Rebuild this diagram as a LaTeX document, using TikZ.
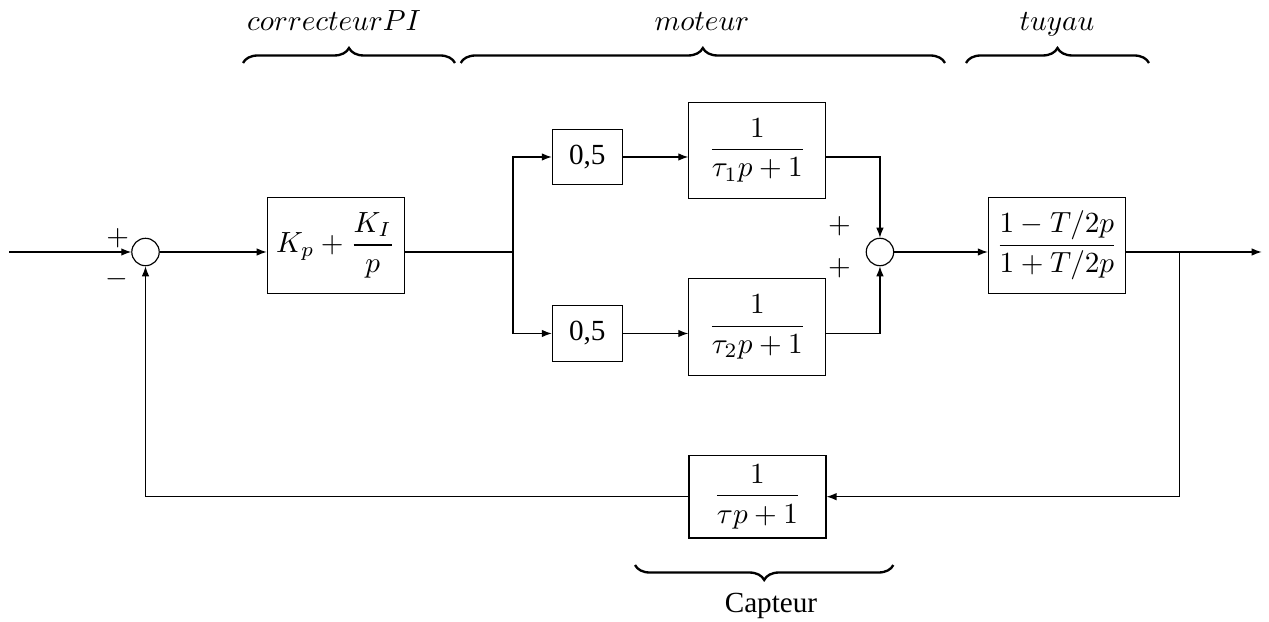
\documentclass[tikz,border=0pt]{standalone}
\usepackage{amsmath}
\usepackage[no-math]{fontspec}
\setmainfont{Liberation Serif}
\usepackage{tikz}
\usetikzlibrary{arrows.meta,positioning,decorations.pathreplacing}
\tikzset{
  blk/.style ={draw, minimum width=16.5mm, minimum height=11.6mm, inner sep=0pt},
  gain/.style={draw, minimum width=8.4mm, minimum height=6.7mm, inner sep=0pt},
  sum/.style ={draw, circle, minimum size=3.3mm, inner sep=0pt},
  arr/.style ={-{Latex[length=1.2mm,width=0.9mm]}},
  brc/.style ={decorate, decoration={brace, amplitude=1.8mm}, line width=0.8pt},
}

\begin{document}
\begin{tikzpicture}
  \useasboundingbox (-1.752,-4.443) rectangle (13.527,3.034);
  % chaine directe
  \node[sum] (sum1) at (0,0) {};
  \coordinate (in) at (-1.640,0);
  \node[blk] (pi) at (2.291,0.081) {$K_p+\dfrac{K_I}{p}$};
  \coordinate (br) at (4.424,0);
  \node[gain] (h1) at (5.319,1.144) {0,5};
  \node[gain] (h2) at (5.319,-0.981) {0,5};
  \node[blk] (t1) at (7.367,1.224) {$\dfrac{1}{\tau_1p+1}$};
  \node[blk] (t2) at (7.367,-0.903) {$\dfrac{1}{\tau_2p+1}$};
  \node[sum] (sum2) at (8.843,0) {};
  \node[blk] (tu) at (10.974,0.081) {$\dfrac{1-T/2p}{1+T/2p}$};
  \coordinate (fb) at (12.447,0);
  \coordinate (out) at (13.439,0);
  % retour
  \node[blk, minimum height=9.95mm] (cap) at (7.368,-2.946) {$\dfrac{1}{\tau p+1}$};
  % signes
  \node at (-0.335,0.169) {$+$};
  \node at (-0.343,-0.329) {$-$};
  \node at (8.356,0.313) {$+$};
  \node at (8.356,-0.193) {$+$};
  % liaisons
  \draw[arr] (in) -- (sum1.west);
  \draw[arr] (sum1.east) -- (sum1.east -| pi.west);
  \draw (pi.east |- sum1) -- (br);
  \draw[arr] (br) |- (h1.west);
  \draw[arr] (br) |- (h2.west);
  \draw[arr] (h1.east) -- (h1.east -| t1.west);
  \draw[arr] (h2.east) -- (h2.east -| t2.west);
  \draw[arr] (t1.east |- h1) -| (sum2.north);
  \draw[arr] (t2.east |- h2) -| (sum2.south);
  \draw[arr] (sum2.east) -- (sum2.east -| tu.west);
  \draw[arr] (tu.east |- sum2) -- (out);
  \draw[arr] (fb) |- (cap.east);
  \draw[arr] (cap.west) -| (sum1.south);
  % accolades
  \draw[brc] (1.174,2.276) -- (3.726,2.276);
  \draw[brc] (3.795,2.276) -- (9.626,2.276);
  \draw[brc] (9.879,2.276) -- (12.082,2.276);
  \draw[brc] (9.004,-3.769) -- (5.894,-3.769);
  \node[anchor=base] (lpi) at (2.270,2.661) {$correcteur PI$};
  \node[anchor=base] (lmot) at (6.700,2.661) {$moteur$};
  \node[anchor=base] (ltu) at (10.974,2.661) {$tuyau$};
  \node[anchor=base] (lcap) at (7.531,-4.343) {Capteur};
\end{tikzpicture}
\end{document}
